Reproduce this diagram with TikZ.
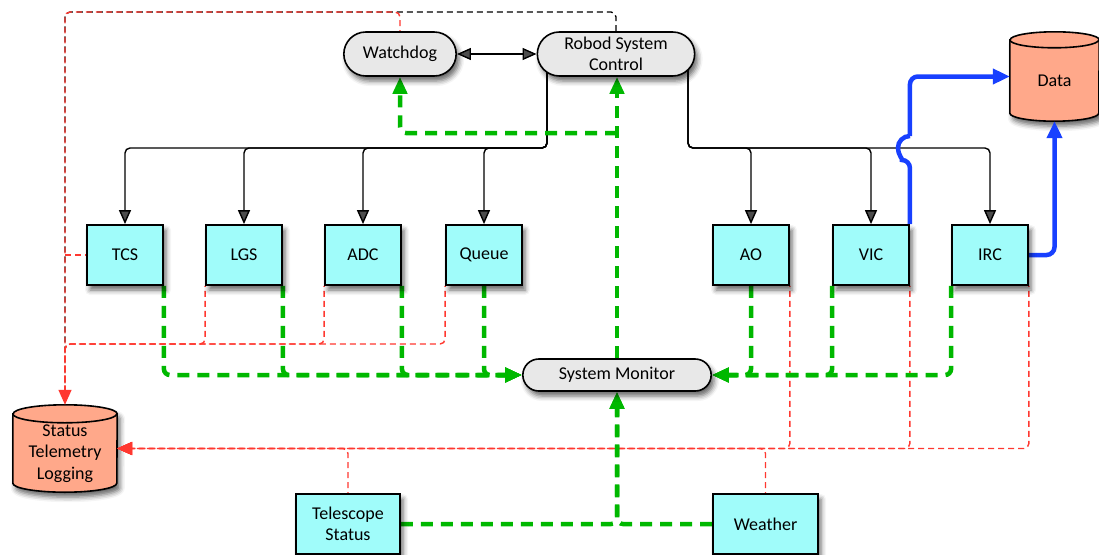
\documentclass[tikz,border=0pt]{standalone}
\usepackage{fontspec}
\setmainfont{Carlito}
\usetikzlibrary{arrows.meta,shapes.misc,shadows.blur,backgrounds}
\definecolor{boxcyan}{RGB}{160,252,250}
\definecolor{salmon}{RGB}{255,168,138}
\definecolor{pillgray}{RGB}{232,232,232}
\definecolor{grn}{RGB}{0,184,0}
\definecolor{blu}{RGB}{24,64,255}
\definecolor{rd}{RGB}{255,56,48}
\newcommand\drawcyl[3]{%
  \path[cylbody] ([yshift=-#3]#1.north west) -- ([yshift=#3]#1.south west)
     arc[start angle=180,end angle=360,x radius=#2,y radius=#3]
     -- ([yshift=-#3]#1.north east)
     arc[start angle=0,end angle=180,x radius=#2,y radius=#3] -- cycle;
  \draw[line width=1.6pt] ([yshift=-#3]#1.north west)
     arc[start angle=180,end angle=360,x radius=#2,y radius=#3];
}
\tikzset{
  shad/.style={blur shadow={shadow xshift=3pt,shadow yshift=-5pt,shadow blur radius=5pt,shadow opacity=60}},
  box/.style={draw, line width=1.8pt, fill=boxcyan, minimum width=76pt, minimum height=60pt, inner sep=2pt, shad, align=center},
  pill/.style={rounded rectangle, draw, line width=1.6pt, fill=pillgray, minimum height=44pt, inner ysep=2pt, shad, align=center},
  cylnode/.style={rectangle, inner sep=0pt},
  cylbody/.style={draw, line width=1.6pt, fill=salmon, shad},
  blk/.style={line width=1.4pt, rounded corners=5pt},
  blkarr/.style={blk, -{Triangle[length=14pt,width=12pt]}},
  blkdash/.style={line width=1.3pt, dash pattern=on 6pt off 4pt, rounded corners=5pt},
  reddash/.style={rd, line width=1.4pt, dash pattern=on 6pt off 4pt, dash phase=5pt, rounded corners=5pt},
  redarr/.style={reddash, -{Triangle[length=15pt,width=13pt]}},
  grnarr/.style={grn, line width=4.5pt, dash pattern=on 12pt off 8pt, rounded corners=6pt, -{Triangle[length=17pt,width=14pt]}},
  bluline/.style={blu, line width=4.5pt, rounded corners=8pt},
  bluarr/.style={bluline, -{Triangle[length=17pt,width=15pt]}}
}
\begin{document}
\begin{tikzpicture}[x=1pt,y=-1pt,font=\fontsize{18}{21.5}\selectfont]
\useasboundingbox (0,0) rectangle (1099,554);
% nodes
\node[pill, minimum width=119pt] (WD) at (400,54) {Watchdog};
\node[pill, minimum width=164pt] (RSC) at (616,54) {Robod System\\Control};
\node[pill, minimum width=195pt, minimum height=32pt] (SM) at (617,375) {System Monitor};
\node[box] (TCS) at (125,255) {TCS};
\node[box] (LGS) at (244,255) {LGS};
\node[box] (ADC) at (363,255) {ADC};
\node[box] (Queue) at (484,255) {Queue};
\node[box] (AO) at (751,255) {AO};
\node[box] (VIC) at (871,255) {VIC};
\node[box] (IRC) at (990,255) {IRC};
\node[box, minimum width=104pt] (TEL) at (348,524) {Telescope\\Status};
\node[box, minimum width=105pt] (Weather) at (765.5,524) {Weather};
\node[cylnode, minimum width=89pt, minimum height=89pt, label={[yshift=-4pt]center:Data}] (DATA) at (1054.5,76.5) {};
\node[cylnode, minimum width=104pt, minimum height=87pt, label={[yshift=-5pt,align=center]center:{Status\\Telemetry\\Logging}}] (STL) at (65,448.5) {};
\begin{pgfonlayer}{background}
\drawcyl{DATA}{44.5pt}{8pt}
\drawcyl{STL}{52pt}{9pt}
% black control tree
\coordinate (tl) at (547,148);
\coordinate (tr) at (688,148);
\foreach \n in {TCS,LGS,ADC,Queue} \draw[blkarr] (RSC.center -| tl) -- (tl) -| (\n.north);
\foreach \n in {AO,VIC,IRC} \draw[blkarr] (RSC.center -| tr) -- (tr) -| (\n.north);
\draw[blk, {Triangle[length=14pt,width=12pt]}-{Triangle[length=14pt,width=12pt]}] (WD.east) -- (RSC.west);
% dashed black and red to logging
\coordinate (tlc) at (65,12);
\draw[blkdash] (RSC.north) |- (tlc) -- (STL.north);
\draw[redarr] (WD.north) |- (tlc) -- (STL.north);
\draw[reddash] (TCS.west) -- (TCS.west -| tlc);
\coordinate (rbus) at (65,344);
\foreach \n in {LGS,ADC,Queue} \draw[reddash] (\n.south west) |- (rbus) -- (STL.north);
\foreach \n in {AO,VIC,IRC} \draw[redarr] (\n.south east) |- (STL.east);
\draw[redarr] (Weather.north) |- (STL.east);
\draw[redarr] (TEL.north) |- (STL.east);
% green monitor lines
\foreach \n/\a in {TCS/south east,LGS/south east,ADC/south east,Queue/south} \draw[grnarr] (\n.\a) |- (SM.west);
\foreach \n/\a in {AO/south,VIC/south west,IRC/south west} \draw[grnarr] (\n.\a) |- (SM.east);
\draw[grnarr] (SM.north) -- (SM.north |- RSC.south);
\coordinate (gj) at (617,133);
\draw[grnarr] (gj) -| (WD.south);
\draw[grnarr] (TEL.east) -| (SM.south);
\draw[grnarr] (Weather.west) -| (SM.south);
% blue data lines
\coordinate (hop) at (VIC.north east |- tr);
\draw[bluline] (VIC.north east) -- ([yshift=-12pt]hop) arc[start angle=-90,end angle=-270,radius=12pt];
\draw[bluarr] ([yshift=12pt]hop) |- (DATA.west);
\draw[bluarr] (IRC.east) -| (DATA.south);
\end{pgfonlayer}
\end{tikzpicture}
\end{document}
